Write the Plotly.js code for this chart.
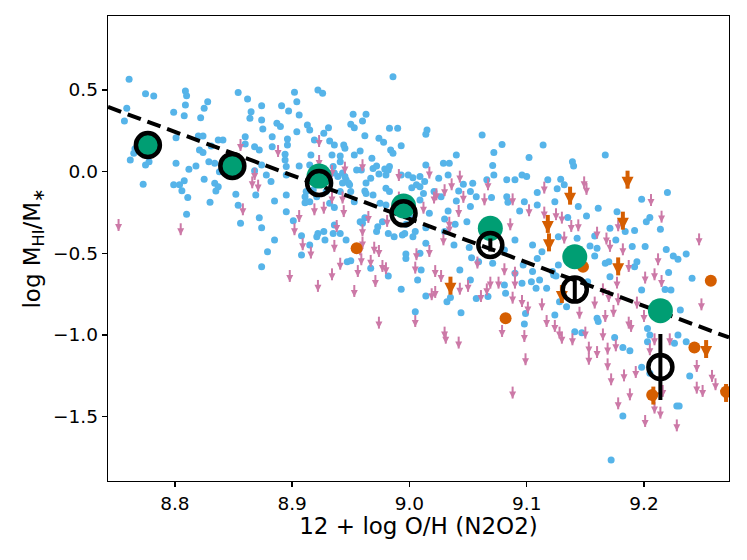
<!DOCTYPE html>
<html>
<head>
<meta charset="utf-8">
<script src="https://cdn.plot.ly/plotly-3.0.1.min.js"></script>
<style>
  body { margin: 0; background: #fff; }
  #plot { width: 747px; height: 560px; }
</style>
</head>
<body>
<div id="plot"></div>
<script>
// detections (blue) as [12+log O/H, log MHI/M*]
const detections = [
  [8.761,0.566],[8.775,0.477],[8.782,0.463],[8.759,0.388],[8.757,0.310],[8.809,0.494],[8.810,0.465],[8.809,0.408],[8.808,0.343],[8.799,0.363],
  [8.828,0.428],[8.825,0.388],[8.822,0.330],[8.854,0.484],[8.862,0.445],[8.865,0.367],[8.864,0.327],[8.874,0.404],[8.874,0.316],[8.801,0.208],
  [8.820,0.218],[8.824,0.218],[8.837,0.194],[8.841,0.194],[8.831,0.157],[8.821,0.133],[8.824,0.118],[8.860,0.214],[8.860,0.169],[8.868,0.153],
  [8.872,0.133],[8.765,0.112],[8.762,0.071],[8.775,0.041],[8.778,0.061],[8.801,0.051],[8.812,0.014],[8.818,0.034],[8.829,0.061],[8.834,0.051],
  [8.825,-0.047],[8.838,0.000],[8.834,-0.071],[8.837,-0.092],[8.835,-0.118],[8.773,-0.077],[8.799,-0.080],[8.804,-0.080],[8.808,-0.055],[8.806,-0.117],
  [8.811,-0.159],[8.830,-0.188],[8.810,-0.261],[8.852,-0.139],[8.854,-0.205],[8.856,-0.316],[8.869,-0.143],[8.872,-0.282],[8.874,-0.343],[8.868,0.006],
  [8.874,-0.582],[8.766,0.140],[8.781,0.190],
  [8.986,0.581],[8.922,0.500],[8.926,0.480],[8.902,0.486],[8.904,0.428],[8.891,0.404],[8.897,0.371],[8.906,0.347],[8.875,0.261],[8.887,0.296],
  [8.890,0.276],[8.913,0.286],[8.915,0.255],[8.904,0.245],[8.931,0.269],[8.927,0.235],[8.883,0.214],[8.896,0.200],[8.919,0.194],[8.932,0.188],
  [8.936,0.163],[8.952,0.351],[8.950,0.290],[8.953,0.269],[8.960,0.310],[8.963,0.351],[8.962,0.220],[8.983,0.265],[8.990,0.265],[8.974,0.204],
  [8.978,0.180],[8.993,0.159],[8.984,0.133],[8.883,0.153],[8.896,0.163],[8.894,0.106],[8.916,0.102],[8.934,0.102],[8.944,0.163],[8.945,0.143],
  [8.953,0.102],[8.958,0.127],[8.968,0.082],[8.959,0.010],[8.969,0.020],[8.967,-0.041],[8.979,0.016],[8.983,0.031],[8.986,0.112],[8.993,-0.020],
  [8.980,-0.020],[8.874,0.041],[8.878,-0.020],[8.882,-0.061],[8.895,0.031],[8.895,-0.020],[8.895,-0.143],[8.885,-0.180],[8.895,-0.245],[8.885,-0.418],
  [8.879,-0.490],[8.908,-0.392],[8.921,-0.398],[8.928,-0.418],[8.912,-0.122],[8.911,-0.153],[8.915,-0.184],[8.929,-0.122],[8.932,-0.194],[8.936,-0.220],
  [8.939,-0.029],[8.943,-0.008],[8.946,-0.049],[8.943,-0.069],[8.941,-0.122],[8.950,-0.122],[8.953,-0.184],[8.962,-0.118],[8.969,-0.143],[8.962,-0.282],
  [8.958,-0.306],[8.973,-0.337],[8.972,-0.367],[8.982,-0.378],[8.987,-0.398],[8.997,-0.322],[8.997,-0.531],[8.947,-0.551],[8.941,0.061],[8.935,0.031],
  [8.901,-0.300],[8.908,-0.510],[8.915,-0.449],[8.922,-0.378],[8.936,-0.327],[8.941,-0.378],[8.946,-0.418],[8.950,-0.545],[8.967,-0.592],[8.994,-0.388],
  [8.982,-0.639],[8.993,-0.720],
  [8.941,0.096],[8.894,0.071],[8.915,0.041],[8.906,0.035],[8.936,-0.008],[8.945,-0.029],[8.948,-0.069],[8.949,-0.080],[8.918,-0.112],[8.911,-0.190],
  [8.921,-0.153],[8.955,0.010],[8.972,0.034],[8.974,-0.014],[8.982,0.010],[8.963,-0.069],[8.963,-0.133],[8.975,-0.194],[8.980,-0.204],[8.980,-0.102],
  [8.983,-0.122],[9.013,-0.061],[9.009,-0.173],[9.006,-0.080],[8.960,-0.316],[8.977,-0.306],[8.996,-0.378],[9.003,-0.398],[8.927,-0.367],[8.935,-0.378],
  [8.997,-0.504],[9.009,-0.500],[9.014,-0.439],
  [9.015,0.255],[9.014,0.229],[9.062,0.224],[9.079,0.167],[9.114,0.163],[9.040,0.102],[9.072,0.118],[9.102,0.086],[9.014,0.041],[9.029,0.051],
  [9.034,0.051],[9.071,0.037],[9.072,-0.020],[8.999,-0.020],[9.003,-0.037],[9.009,-0.029],[9.025,-0.041],[9.033,-0.020],[9.046,-0.077],[9.054,-0.071],
  [9.066,-0.049],[9.083,-0.049],[9.090,-0.049],[9.096,-0.020],[9.100,-0.029],[9.118,-0.049],[9.126,-0.104],[9.109,-0.127],[9.002,-0.098],[9.009,-0.092],
  [9.012,-0.133],[9.021,-0.122],[9.027,-0.153],[9.042,-0.118],[9.052,-0.122],[9.057,-0.153],[9.040,-0.180],[9.052,-0.214],[9.033,-0.241],[9.070,-0.159],
  [9.083,-0.153],[9.084,-0.188],[9.094,-0.241],[9.098,-0.184],[9.109,-0.204],[9.124,-0.184],[9.017,-0.255],[9.002,-0.286],[9.005,-0.367],[9.014,-0.343],
  [9.030,-0.290],[9.039,-0.322],[9.049,-0.306],[9.038,-0.449],[9.051,-0.465],[9.030,-0.367],[9.010,-0.602],[9.053,-0.527],[9.071,-0.561],[9.090,-0.418],
  [9.081,-0.480],[9.097,-0.572],[9.105,-0.449],[9.113,-0.490],[9.109,-0.531],[9.122,-0.612],
  [9.167,0.102],[9.139,0.061],[9.140,0.034],[9.129,-0.047],[9.132,-0.080],[9.220,-0.127],[9.198,-0.169],[9.144,-0.214],[9.161,-0.224],[9.177,-0.245],
  [9.151,-0.271],[9.135,-0.280],[9.205,-0.280],[9.202,-0.306],[9.214,-0.353],[9.192,-0.361],[9.184,-0.367],[9.171,-0.347],[9.127,-0.398],[9.143,-0.408],
  [9.158,-0.394],[9.176,-0.418],[9.154,-0.455],[9.160,-0.469],[9.190,-0.459],[9.201,-0.459],[9.219,-0.476],[9.225,-0.516],[9.229,-0.537],[9.236,-0.504],
  [9.158,-0.516],[9.167,-0.561],[9.170,-0.551],[9.192,-0.582],[9.194,-0.551],[9.221,-0.618],[9.241,-0.653],[9.198,-0.725],[9.218,-0.721],[9.223,-0.725],
  [9.152,-0.674],[9.171,-0.643],[9.160,-0.898],[9.127,-0.572],[9.125,-0.639],
  [9.007,-0.663],[9.014,-0.761],[9.005,-0.857],[9.032,-0.796],[9.035,-0.770],[9.044,-0.864],[9.057,-0.776],[9.067,-0.765],[9.052,-0.663],[9.043,-0.602],
  [9.059,-0.551],[9.081,-0.694],[9.082,-0.745],[9.096,-0.684],[9.099,-0.868],[9.098,-0.933],[9.108,-0.714],[9.117,-0.714],[9.124,-0.878],[9.090,-0.622],
  [9.104,-0.674],[9.111,-0.663],[9.105,-0.612],[9.123,-0.633],[9.128,-0.796],[9.134,-0.827],
  [9.231,-0.847],[9.229,-1.000],[9.236,-1.041],[9.226,-1.051],[9.203,-0.960],[9.205,-1.000],[9.203,-1.041],[9.198,-1.198],[9.205,-1.235],[9.239,-1.251],
  [9.228,-1.435],[9.230,-1.435],[9.182,-1.496],[9.172,-1.766],[9.188,-1.096],[9.182,-1.076],[9.175,-1.015],[9.141,-0.980],[9.147,-0.986],[9.161,-0.918]
];

// HI upper limits (pink arrows)
const upperLimits = [
  [8.752,-0.290],[8.805,-0.316],[8.856,0.200],[8.868,0.022],[8.866,-0.029],[8.871,-0.049],[8.858,-0.194],
  [8.923,0.224],[8.888,0.163],[8.923,0.102],[8.945,0.061],[8.960,0.076],[8.926,0.010],[8.934,0.041],[8.991,0.016],[8.991,-0.122],
  [8.919,-0.194],[8.927,-0.184],[8.934,-0.122],[8.944,-0.205],[8.943,-0.122],[8.906,-0.235],[8.902,-0.316],[8.938,-0.296],[8.960,-0.322],[8.965,-0.241],
  [8.981,-0.265],[8.909,-0.408],[8.916,-0.459],[8.936,-0.418],[8.958,-0.439],[8.970,-0.429],[8.974,-0.449],[8.941,-0.527],[8.959,-0.500],[8.967,-0.510],
  [8.977,-0.541],[8.980,-0.555],[8.934,-0.592],
  [8.898,-0.602],[8.922,-0.663],[8.953,-0.694],[8.956,-0.572],[8.960,-0.398],[8.971,-0.633],[8.974,-0.888],
  [9.017,0.031],[9.023,-0.102],[9.021,-0.122],[9.030,-0.077],[9.036,-0.041],[9.043,0.006],[9.046,-0.118],[9.012,-0.184],[9.042,-0.204],[9.034,-0.276],
  [9.064,-0.133],[9.067,-0.041],[9.088,-0.133],[9.086,-0.286],[9.102,-0.200],[9.115,-0.061],[9.115,-0.214],[9.125,-0.224],[9.029,-0.378],[9.017,-0.449],
  [9.006,-0.469],[9.034,-0.306],[9.058,-0.520],[9.081,-0.561],[9.090,-0.582],[9.022,-0.572],[9.027,-0.602],
  [9.149,-0.029],[9.151,-0.069],[9.206,-0.137],[9.215,-0.239],[9.247,-0.378],[9.130,-0.245],[9.138,-0.296],[9.144,-0.292],[9.160,-0.337],[9.168,-0.373],
  [9.178,-0.292],[9.171,-0.418],[9.182,-0.439],[9.212,-0.500],[9.201,-0.612],[9.209,-0.592],[9.215,-0.633],[9.177,-0.643],[9.165,-0.684],[9.187,-0.541],
  [9.249,-0.776],[9.145,-0.827],[9.132,-0.367],[9.170,-0.725],[9.178,-0.745],[9.194,-0.765],[9.200,-0.847],[9.167,-0.847],[9.158,-0.765],
  [9.005,-0.878],[9.005,-0.551],[9.019,-0.714],[9.022,-0.700],[9.043,-0.680],[9.050,-0.663],[9.061,-0.725],[9.066,-0.684],[9.069,-0.643],[9.076,-0.643],
  [9.090,-0.643],[9.088,-0.735],[9.096,-0.755],[9.101,-0.796],[9.113,-0.776],[9.117,-0.878],[9.124,-0.908],[9.128,-0.949],[9.030,-0.949],[9.031,-0.980],
  [9.042,-1.010],[9.079,-0.939],[9.098,-0.970],[9.099,-1.112],[9.088,-1.316],
  [9.245,-1.153],[9.258,-1.214],[9.261,-1.265],[9.245,-1.286],[9.250,-1.306],[9.209,-0.990],[9.205,-1.051],[9.222,-0.990],[9.216,-1.306],[9.214,-1.439],
  [9.209,-1.408],[9.228,-1.517],[9.201,-1.490],[9.188,-1.327],[9.178,-1.382],[9.193,-1.190],[9.183,-1.211],[9.172,-1.235],[9.169,-1.143],[9.169,-1.047],
  [9.176,-1.027],[9.160,-1.068],[9.153,-1.109],[9.153,-1.041],[9.139,-0.990],[9.165,-0.960],[9.187,-0.888],[9.189,-0.908],[9.150,-0.949],[9.174,-0.816],
  [9.130,-0.980]
];

// second sample (orange): detections and upper limits
const orangeDet = [[8.955,-0.469],[9.082,-0.898],[9.257,-0.668],[9.243,-1.076],[9.207,-1.367],[9.270,-1.347],[9.148,-0.582]];
const orangeLim = [[9.186,0.006],[9.137,-0.092],[9.182,-0.245],[9.178,-0.525],[9.118,-0.265],[9.119,-0.378],[9.035,-0.643],[9.130,-0.694],[9.253,-1.031],[9.208,-1.316],[9.270,-1.300]];

// binned values
const binX = [8.777, 8.849, 8.923, 8.995, 9.069, 9.141, 9.214];
const binMeanDet = [0.163, 0.035, -0.027, -0.210, -0.347, -0.521, -0.851];
const binMeanAll = [0.163, 0.035, -0.070, -0.255, -0.449, -0.722, -1.196];
const binErr = [0, 0, 0, 0, 0.04, 0.07, 0.202];

// linear fit (dashed)
const fitSlope = -2.665;
const fitAt9 = -0.289;
const fitX = [8.743, 9.2725];

const ARROW_LEN = 0.073;
const BIG_ARROW_LEN = 0.11;

const BLUE = '#56B4E9', PINK = '#CC79A7', ORANGE = '#D55E00', GREEN = '#009E73';

function col(arr, i) { return arr.map(p => p[i]); }

let data = [];

data.push({
  x: col(detections, 0), y: col(detections, 1),
  mode: 'markers', type: 'scatter',
  marker: {color: BLUE, size: 7}
});

// arrows: tip placed ARROW_LEN below the limit, stem drawn back up to it
data.push({
  x: col(upperLimits, 0), y: upperLimits.map(p => p[1] - ARROW_LEN),
  mode: 'markers', type: 'scatter',
  marker: {color: PINK, size: 7, symbol: 'arrow-down'},
  error_y: {type: 'constant', symmetric: false, value: ARROW_LEN, valueminus: 0,
            color: PINK, thickness: 2, width: 0}
});

data.push({
  x: col(orangeLim, 0), y: orangeLim.map(p => p[1] - BIG_ARROW_LEN),
  mode: 'markers', type: 'scatter',
  marker: {color: ORANGE, size: 12, symbol: 'arrow-down'},
  error_y: {type: 'constant', symmetric: false, value: BIG_ARROW_LEN, valueminus: 0,
            color: ORANGE, thickness: 4, width: 0}
});

data.push({
  x: col(orangeDet, 0), y: col(orangeDet, 1),
  mode: 'markers', type: 'scatter',
  marker: {color: ORANGE, size: 12}
});

data.push({
  x: fitX, y: fitX.map(v => fitAt9 + fitSlope * (v - 9)),
  mode: 'lines', type: 'scatter',
  line: {color: 'black', width: 4, dash: '14px,7px'}
});

data.push({
  x: binX, y: binMeanDet,
  mode: 'markers', type: 'scatter',
  marker: {color: GREEN, size: 25}
});

data.push({
  x: binX, y: binMeanAll,
  mode: 'markers', type: 'scatter',
  marker: {color: 'rgba(0,0,0,0)', size: 24, line: {color: 'black', width: 4.5}},
  error_y: {type: 'data', array: binErr, visible: true, color: 'black', thickness: 4, width: 0}
});

const axisCommon = {
  showgrid: false, zeroline: false,
  showline: true, linecolor: 'black', linewidth: 1.3, mirror: true,
  ticks: 'outside', ticklen: 5, tickwidth: 1.3, tickcolor: 'black',
  tickfont: {family: 'DejaVu Sans', size: 18.5, color: 'black'},
  tickformat: '.1f'
};

const layout = {
  width: 747, height: 560,
  margin: {l: 108, r: 18, t: 16, b: 79},
  paper_bgcolor: 'white', plot_bgcolor: 'white',
  showlegend: false,
  font: {family: 'DejaVu Sans', color: 'black'},
  xaxis: Object.assign({}, axisCommon, {
    range: [8.743, 9.2725],
    tickvals: [8.8, 8.9, 9.0, 9.1, 9.2],
    title: {text: '12 + log O/H (N2O2)', font: {family: 'DejaVu Sans', size: 23, color: 'black'}, standoff: 5}
  }),
  yaxis: Object.assign({}, axisCommon, {
    range: [-1.894, 0.953],
    tickvals: [-1.5, -1.0, -0.5, 0.0, 0.5],
    title: {text: 'log M<sub>HI</sub>/M<sub>∗</sub>', font: {family: 'DejaVu Sans', size: 23, color: 'black'}, standoff: 6}
  })
};

Plotly.newPlot('plot', data, layout, {staticPlot: true});
</script>
</body>
</html>
